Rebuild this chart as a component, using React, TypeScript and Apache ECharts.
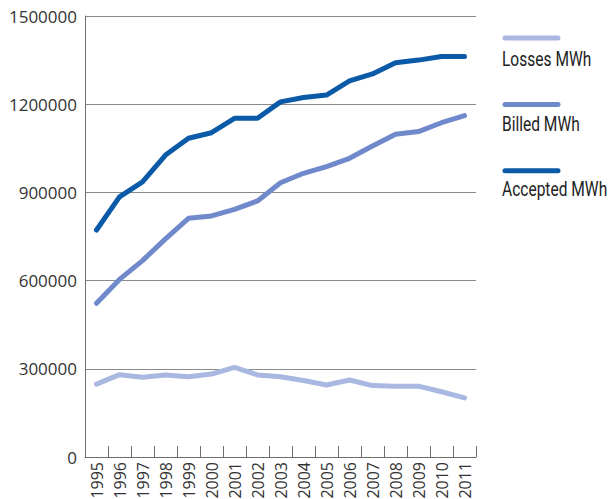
import React, { useEffect, useRef } from "react";
import * as echarts from "echarts";

const years = [
  "1995", "1996", "1997", "1998", "1999", "2000", "2001", "2002", "2003",
  "2004", "2005", "2006", "2007", "2008", "2009", "2010", "2011",
];

const lossesMWh = [
  248000, 280000, 271000, 279000, 273000, 282000, 305000, 279000, 273000,
  260000, 245000, 262000, 243000, 241000, 241000, 222000, 201000,
];

const billedMWh = [
  523000, 604000, 668000, 742000, 812000, 820000, 842000, 871000, 933000,
  965000, 988000, 1016000, 1058000, 1098000, 1107000, 1137000, 1161000,
];

const acceptedMWh = [
  772000, 885000, 936000, 1027000, 1084000, 1103000, 1152000, 1152000, 1208000,
  1223000, 1231000, 1279000, 1303000, 1341000, 1350000, 1362000, 1362000,
];

const seriesNames = ["Losses MWh", "Billed MWh", "Accepted MWh"];
const seriesColors = ["#a9b8e1", "#7089cb", "#0a5aa8"];
const seriesData = [lossesMWh, billedMWh, acceptedMWh];

const W = 613;
const H = 499;

export default function App() {
  const ref = useRef<HTMLDivElement>(null);

  useEffect(() => {
    if (!ref.current) return;
    const chart = echarts.init(ref.current, null, { renderer: "svg", width: W, height: H });

    // Legend: a short swatch line with the series name underneath
    const legendItems: any[] = [];
    seriesNames.forEach((name, i) => {
      const lineY = 38 + i * 66.4;
      legendItems.push({
        type: "line",
        shape: { x1: 505, y1: lineY, x2: 558, y2: lineY },
        style: { stroke: seriesColors[i], lineWidth: 5, lineCap: "round" },
      });
      legendItems.push({
        type: "text",
        x: 502,
        y: 59.2 + i * 65.2,
        scaleX: 0.74,
        style: {
          text: name,
          fill: "#222",
          fontSize: 21,
          fontFamily: "Roboto, sans-serif",
          verticalAlign: "middle",
        },
      });
    });

    chart.setOption({
      animation: false,
      backgroundColor: "#ffffff",
      grid: {
        left: 85,
        top: 16,
        right: 137,
        bottom: 42,
        containLabel: false,
        outerBoundsMode: "none",
      },
      xAxis: {
        type: "category",
        data: years,
        boundaryGap: true,
        axisLine: { show: true, lineStyle: { color: "#6e6e6e", width: 1 } },
        axisTick: { show: true, inside: true, length: 11, lineStyle: { color: "#6e6e6e" } },
        axisLabel: {
          rotate: 90,
          interval: 0,
          margin: 5,
          color: "#333",
          fontSize: 16,
          fontFamily: '"Open Sans", sans-serif',
        },
        splitLine: { show: false },
      },
      yAxis: {
        type: "value",
        min: 0,
        max: 1500000,
        interval: 300000,
        axisLine: { show: true, lineStyle: { color: "#6e6e6e", width: 1 } },
        axisTick: { show: false },
        axisLabel: {
          margin: 8,
          color: "#333",
          fontSize: 17,
          fontFamily: '"Open Sans", sans-serif',
          formatter: (v: number) => String(v),
        },
        splitLine: { show: true, lineStyle: { color: "#8a8a8a", width: 1 } },
      },
      series: seriesNames.map((name, i) => ({
        name,
        type: "line",
        data: seriesData[i],
        symbol: "none",
        lineStyle: { color: seriesColors[i], width: 5, cap: "round", join: "round" },
        itemStyle: { color: seriesColors[i] },
      })),
      graphic: legendItems,
    });

    return () => chart.dispose();
  }, []);

  return (
    <div
      ref={ref}
      style={{ position: "absolute", left: 0, top: 0, width: W, height: H }}
    />
  );
}
